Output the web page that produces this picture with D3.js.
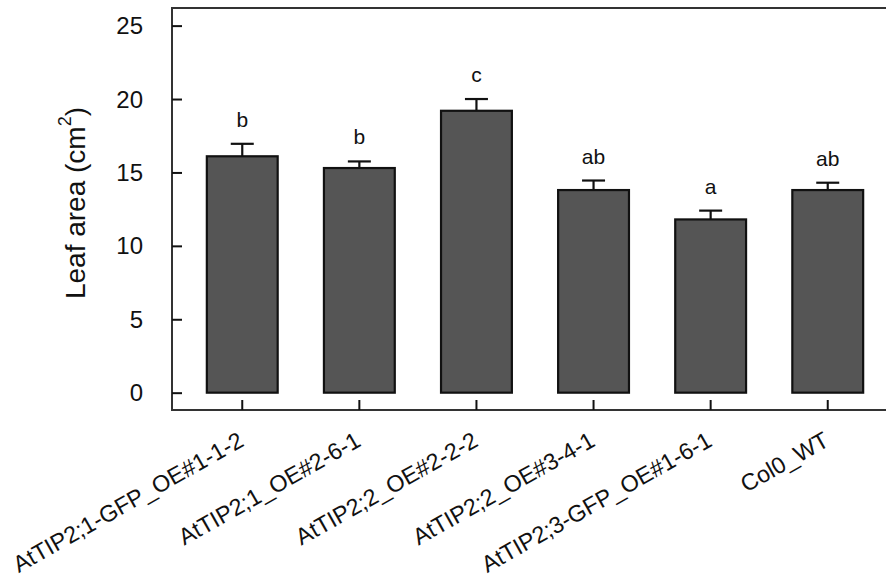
<!DOCTYPE html>
<html>
<head>
<meta charset="utf-8">
<script src="https://cdn.jsdelivr.net/npm/d3@7"></script>
<style>
  html, body { margin: 0; padding: 0; background: #fff; }
  svg { display: block; font-family: "Liberation Sans", Arial, sans-serif; }
</style>
</head>
<body>
<svg id="chart" width="886" height="578"></svg>
<script>
// Leaf area per line (mean with upward SE bar) and significance letters
const lines = [
  "AtTIP2;1-GFP_OE#1-1-2",
  "AtTIP2;1_OE#2-6-1",
  "AtTIP2;2_OE#2-2-2",
  "AtTIP2;2_OE#3-4-1",
  "AtTIP2;3-GFP_OE#1-6-1",
  "Col0_WT"
];
const leafArea = [16.1, 15.3, 19.2, 13.8, 11.8, 13.8];
const stdErr   = [0.85, 0.45, 0.8, 0.65, 0.6, 0.5];
const groups   = ["b", "b", "c", "ab", "a", "ab"];
const yTicks   = [0, 5, 10, 15, 20, 25];

const svg = d3.select("#chart");
const plotLeft = 172, plotRight = 898, plotTop = 8, plotBottom = 410;

const x = d3.scaleBand().domain(lines).range([plotLeft, plotRight]).paddingInner(0).paddingOuter(0.1);
const y = d3.scaleLinear().domain([-1.18, 26.2]).range([plotBottom, plotTop]);
const barW = x.step() * 0.605;
const cx = d => x(d) + x.bandwidth() / 2;

const axisColor = "#333";

// plot frame (left, top, bottom; right side runs past the canvas)
svg.append("path")
  .attr("d", `M${plotRight},${plotBottom}H${plotLeft}V${plotTop}H${plotRight}`)
  .attr("fill", "none").attr("stroke", axisColor).attr("stroke-width", 2);

// y axis ticks point into the plot
const yAxis = svg.append("g").attr("transform", `translate(${plotLeft},0)`)
  .call(d3.axisRight(y).tickValues(yTicks).tickSize(10).tickFormat(""));
yAxis.select(".domain").remove();
yAxis.selectAll("line").attr("stroke", "#111").attr("stroke-width", 2);

svg.append("g").selectAll("text").data(yTicks).join("text")
  .attr("x", 143).attr("y", d => y(d))
  .attr("dy", "0.36em").attr("text-anchor", "end")
  .attr("font-size", 24).attr("fill", "#111")
  .text(d => d);

// x axis ticks point up into the plot
const xAxis = svg.append("g").attr("transform", `translate(0,${plotBottom})`)
  .call(d3.axisTop(x).tickSize(10).tickFormat(""));
xAxis.select(".domain").remove();
xAxis.selectAll("line").attr("stroke", "#111").attr("stroke-width", 2);

// rotated category labels
svg.append("g").selectAll("text").data(lines).join("text")
  .attr("transform", d => `translate(${cx(d) + 3},${445}) rotate(-29.5)`)
  .attr("text-anchor", "end")
  .attr("font-size", 23.3).attr("fill", "#111")
  .text(d => d);

// error bars (upper half only)
const eb = svg.append("g").attr("stroke", "#111").attr("stroke-width", 2.2).attr("fill", "none");
lines.forEach((d, i) => {
  const capY = y(leafArea[i] + stdErr[i]);
  eb.append("line").attr("x1", cx(d)).attr("x2", cx(d)).attr("y1", y(leafArea[i])).attr("y2", capY);
  eb.append("line").attr("x1", cx(d) - 11.5).attr("x2", cx(d) + 11.5).attr("y1", capY).attr("y2", capY);
});

// bars
svg.append("g").selectAll("rect").data(lines).join("rect")
  .attr("x", d => cx(d) - barW / 2)
  .attr("width", barW)
  .attr("y", (d, i) => y(leafArea[i]))
  .attr("height", (d, i) => y(0) - y(leafArea[i]))
  .attr("fill", "#555555").attr("stroke", "#111").attr("stroke-width", 2.2);

// significance letters
svg.append("g").selectAll("text").data(lines).join("text")
  .attr("x", d => cx(d))
  .attr("y", (d, i) => y(leafArea[i] + stdErr[i]) - 17)
  .attr("text-anchor", "middle")
  .attr("font-size", 21).attr("fill", "#111")
  .text((d, i) => groups[i]);

// y axis title
const yt = svg.append("text")
  .attr("transform", `translate(85,203) rotate(-90)`)
  .attr("text-anchor", "middle")
  .attr("font-size", 28).attr("fill", "#111");
yt.append("tspan").text("Leaf area (cm");
yt.append("tspan").attr("font-size", 18).attr("dy", -14).text("2");
yt.append("tspan").attr("dy", 14).text(")");
</script>
</body>
</html>
